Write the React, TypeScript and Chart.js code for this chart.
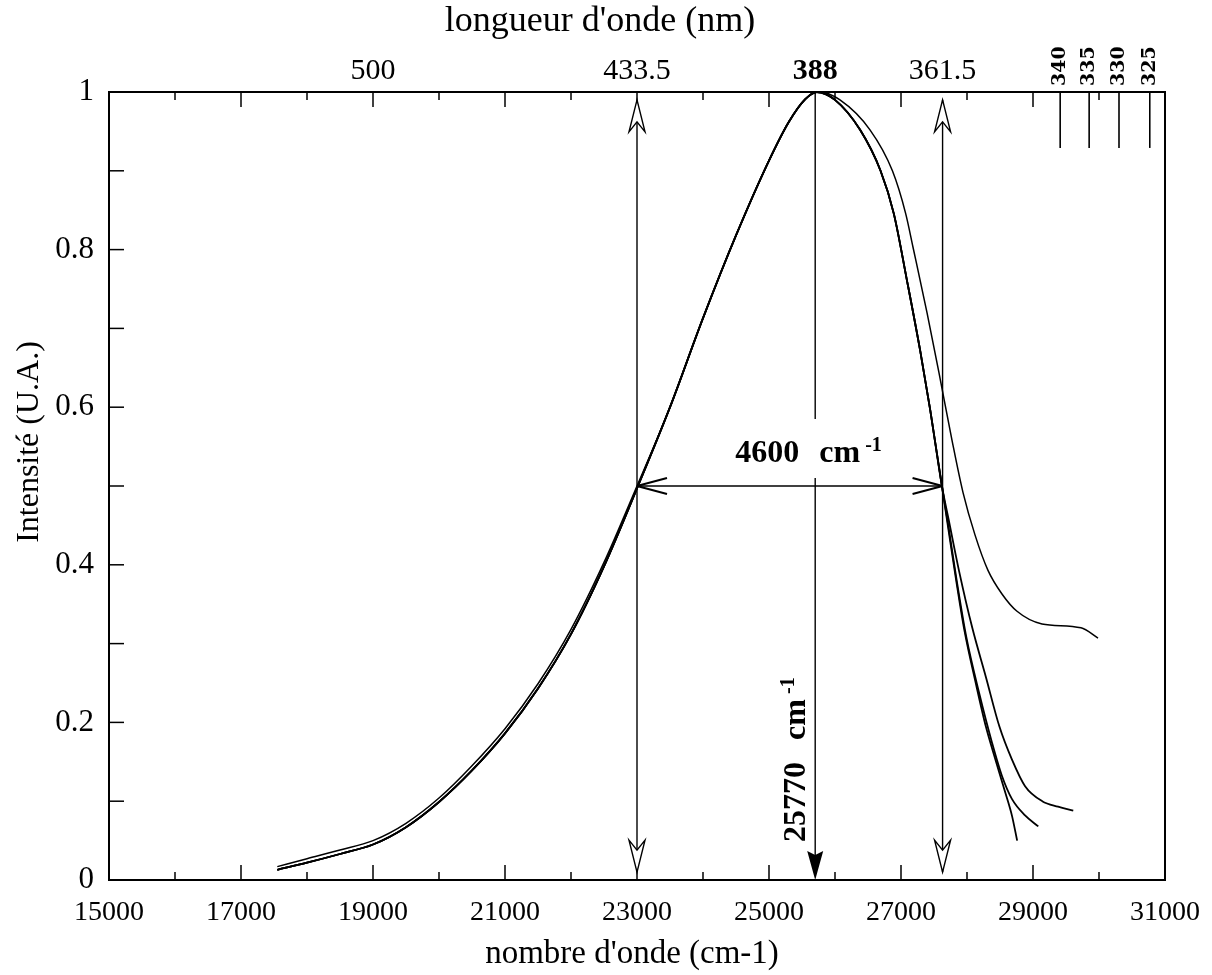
import React, { useEffect, useRef } from "react";
import { Chart, registerables } from "chart.js";

Chart.register(...registerables);

// ---- data (wavenumber in cm-1, intensity in a.u.) ----
const wnCommon = [17550, 18000, 18500, 19000, 19500, 20000, 20500, 21000, 21500, 22000, 22500, 23000, 23500, 24000, 24500, 25000, 25300, 25550, 25720, 26000, 26380, 26690, 26890, 27090, 27290, 27440, 27620];
const intCommon = [0.013, 0.022, 0.033, 0.045, 0.067, 0.099, 0.139, 0.186, 0.243, 0.312, 0.398, 0.497, 0.600, 0.713, 0.818, 0.913, 0.962, 0.991, 1.0, 0.990, 0.952, 0.90, 0.846, 0.761, 0.672, 0.598, 0.500];

const wnTail340 = [27720, 27840, 27960, 28135, 28285, 28430, 28580, 28680, 28760];
const intTail340 = [0.444, 0.378, 0.317, 0.249, 0.195, 0.153, 0.111, 0.082, 0.050];

const wnTail335 = [27720, 27840, 27990, 28185, 28380, 28530, 28680, 28880, 29080];
const intTail335 = [0.448, 0.382, 0.308, 0.237, 0.174, 0.132, 0.103, 0.082, 0.068];

const wnTail330 = [27730, 27880, 28080, 28285, 28490, 28680, 28880, 29140, 29380, 29610];
const intTail330 = [0.454, 0.392, 0.32, 0.258, 0.195, 0.153, 0.119, 0.100, 0.093, 0.088];

const wn325 = [17550, 18000, 18500, 19000, 19500, 20000, 20500, 21000, 21500, 22000, 22500, 23000, 23500, 24000, 24500, 25000, 25300, 25550, 25760, 26075, 26530, 26870, 27070, 27182, 27394, 27591, 27773, 27939, 28121, 28318, 28530, 28758, 29136, 29727, 29985];
const int325 = [0.017, 0.027, 0.038, 0.050, 0.072, 0.104, 0.145, 0.192, 0.249, 0.318, 0.403, 0.500, 0.600, 0.713, 0.818, 0.913, 0.962, 0.991, 1.0, 0.99, 0.952, 0.90, 0.846, 0.803, 0.72, 0.637, 0.558, 0.492, 0.438, 0.393, 0.363, 0.341, 0.325, 0.320, 0.307];

// annotations
const fwhmLeft = 23000;
const fwhmRight = 27630;
const peakWn = 25700;
const halfMax = 0.5;
const excitationNm = [340, 335, 330, 325];
const topLabels = ["500", "433.5", "388", "361.5"];
const topLabelWn = [19000, 23000, 25700, 27630];
const xMinorTicks = [16000, 17000, 18000, 19000, 20000, 21000, 22000, 23000, 24000, 25000, 26000, 27000, 28000, 29000, 30000];
const yMinorTicks = [0.1, 0.2, 0.3, 0.4, 0.5, 0.6, 0.7, 0.8, 0.9];

const toPts = (xs: number[], ys: number[]) => xs.map((x, i) => ({ x, y: ys[i] }));

const overlay = {
  id: "overlay",
  afterDatasetsDraw(chart: any) {
    const { ctx, chartArea: a, scales } = chart;
    const X = (v: number) => scales.x.getPixelForValue(v);
    const Y = (v: number) => scales.y.getPixelForValue(v);
    const line = (x1: number, y1: number, x2: number, y2: number) => {
      ctx.beginPath();
      ctx.moveTo(x1, y1);
      ctx.lineTo(x2, y2);
      ctx.stroke();
    };
    const openArrow = (x: number, tip: number, dir: number) => {
      const L = 32, W = 8, N = 22;
      ctx.beginPath();
      ctx.moveTo(x, tip);
      ctx.lineTo(x - W, tip - dir * L);
      ctx.lineTo(x, tip - dir * N);
      ctx.lineTo(x + W, tip - dir * L);
      ctx.closePath();
      ctx.fillStyle = "#fff";
      ctx.fill();
      ctx.stroke();
    };
    ctx.save();
    ctx.strokeStyle = "#000";
    ctx.fillStyle = "#000";
    ctx.lineCap = "butt";

    // frame
    ctx.lineWidth = 2;
    ctx.strokeRect(a.left, a.top, a.right - a.left, a.bottom - a.top);

    // ticks (inward)
    ctx.lineWidth = 1.5;
    yMinorTicks.forEach((v) => line(a.left, Y(v), a.left + 15, Y(v)));
    xMinorTicks.forEach((v) => {
      const len = v % 2000 === 1000 ? 15 : 8;
      line(X(v), a.bottom, X(v), a.bottom - len);
      line(X(v), a.top, X(v), a.top + len);
    });

    // excitation markers at top right
    ctx.lineWidth = 1.6;
    excitationNm.forEach((nm) => {
      const xv = X(1e7 / nm);
      line(xv, Y(1), xv, Y(0.929));
      ctx.save();
      ctx.translate(xv, a.top - 6);
      ctx.rotate(-Math.PI / 2);
      ctx.font = "bold 19px 'DejaVu Serif'";
      ctx.textAlign = "left";
      ctx.textBaseline = "middle";
      ctx.fillStyle = "#000";
      ctx.fillText(String(nm), 0, 0);
      ctx.restore();
    });

    // FWHM vertical double arrows
    ctx.lineWidth = 1.4;
    [fwhmLeft, fwhmRight].forEach((w) => {
      const xv = X(w);
      line(xv, Y(0.99), xv, Y(0.01));
      openArrow(xv, Y(0.99), -1);
      openArrow(xv, Y(0.01), 1);
    });

    // horizontal half-max arrow
    const xl = X(fwhmLeft), xr = X(fwhmRight), yh = Y(halfMax);
    ctx.lineWidth = 1.5;
    line(xl, yh, xr, yh);
    ctx.lineWidth = 2;
    line(xl, yh, xl + 30, yh - 8);
    line(xl, yh, xl + 30, yh + 8);
    line(xr, yh, xr - 30, yh - 8);
    line(xr, yh, xr - 30, yh + 8);

    // center line with filled arrow
    const xc = X(peakWn);
    ctx.lineWidth = 1.4;
    line(xc, Y(1), xc, Y(0.585));
    line(xc, Y(0.51), xc, Y(0) - 20);
    ctx.fillStyle = "#000";
    ctx.beginPath();
    ctx.moveTo(xc, Y(0));
    ctx.lineTo(xc - 8, Y(0) - 29);
    ctx.lineTo(xc, Y(0) - 25);
    ctx.lineTo(xc + 8, Y(0) - 29);
    ctx.closePath();
    ctx.fill();

    // "4600 cm-1" label
    ctx.fillStyle = "#000";
    ctx.textBaseline = "alphabetic";
    ctx.textAlign = "left";
    ctx.font = "bold 32px 'Liberation Serif'";
    ctx.fillText("4600", xc - 80, yh - 24);
    ctx.fillText("cm", xc + 4, yh - 24);
    ctx.font = "bold 20px 'Liberation Serif'";
    ctx.fillText("-1", xc + 50, yh - 35);

    // rotated "25770 cm-1"
    ctx.save();
    ctx.translate(xc - 10, a.bottom - 38);
    ctx.rotate(-Math.PI / 2);
    ctx.font = "bold 32px 'Liberation Serif'";
    ctx.textAlign = "left";
    ctx.fillText("25770", 0, 0);
    ctx.fillText("cm", 102, 0);
    ctx.font = "bold 20px 'Liberation Serif'";
    ctx.fillText("-1", 148, -11);
    ctx.restore();

    // top wavelength labels
    ctx.textAlign = "center";
    ctx.textBaseline = "alphabetic";
    topLabels.forEach((t, i) => {
      ctx.font = (t === "388" ? "bold " : "") + "30px 'Liberation Serif'";
      ctx.fillText(t, X(topLabelWn[i]), a.top - 13);
    });

    // axis titles
    ctx.font = "36px 'Liberation Serif'";
    ctx.fillText("longueur d'onde (nm)", 600, 31);
    ctx.font = "33px 'Liberation Serif'";
    ctx.fillText("nombre d'onde (cm-1)", 632, 963);
    ctx.save();
    ctx.translate(38, 442);
    ctx.rotate(-Math.PI / 2);
    ctx.font = "32px 'Liberation Serif'";
    ctx.textAlign = "center";
    ctx.fillText("Intensité (U.A.)", 0, 0);
    ctx.restore();

    ctx.restore();
  },
};

export default function App() {
  const ref = useRef<HTMLCanvasElement | null>(null);
  useEffect(() => {
    if (!ref.current) return;
    const common = (tailX: number[], tailY: number[]) =>
      toPts(wnCommon.concat(tailX), intCommon.concat(tailY));
    const ds = (label: string, data: any[], w: number) => ({
      label,
      data,
      borderColor: "#000",
      borderWidth: w,
      pointRadius: 0,
      fill: false,
      cubicInterpolationMode: "monotone" as const,
    });
    const chart = new Chart(ref.current, {
      type: "line",
      data: {
        datasets: [
          ds("exc 325 nm", toPts(wn325, int325), 1.5),
          ds("exc 330 nm", common(wnTail330, intTail330), 1.8),
          ds("exc 335 nm", common(wnTail335, intTail335), 1.8),
          ds("exc 340 nm", common(wnTail340, intTail340), 1.8),
        ],
      },
      options: {
        responsive: false,
        animation: false,
        devicePixelRatio: 1,
        layout: { padding: { left: 0, top: 92, right: 47, bottom: 0 } },
        plugins: { legend: { display: false }, tooltip: { enabled: false } },
        scales: {
          x: {
            type: "linear",
            min: 15000,
            max: 31000,
            grid: { display: false },
            border: { display: false },
            afterFit: (s: any) => { s.height = 95; },
            ticks: {
              stepSize: 1000,
              autoSkip: false,
              maxRotation: 0,
              padding: 8,
              color: "#000",
              font: { family: "'Liberation Serif'", size: 28 },
              callback: (v: any) => (Number(v) % 2000 === 1000 ? String(v) : ""),
            },
          },
          y: {
            type: "linear",
            min: 0,
            max: 1,
            grid: { display: false },
            border: { display: false },
            afterFit: (s: any) => { s.width = 109; },
            ticks: {
              stepSize: 0.1,
              autoSkip: false,
              padding: 7,
              color: "#000",
              font: { family: "'Liberation Serif'", size: 31 },
              callback: (v: any) => {
                const r = Math.round(Number(v) * 10);
                if (r % 2 !== 0) return "";
                if (r === 0) return "0";
                if (r === 10) return "1";
                return (r / 10).toFixed(1);
              },
            },
          },
        },
      },
      plugins: [overlay],
    });
    return () => chart.destroy();
  }, []);
  return (
    <div style={{ position: "absolute", left: 0, top: 0, width: 1212, height: 975, background: "#fff" }}>
      <canvas ref={ref} width={1212} height={975} style={{ width: 1212, height: 975 }} />
    </div>
  );
}
